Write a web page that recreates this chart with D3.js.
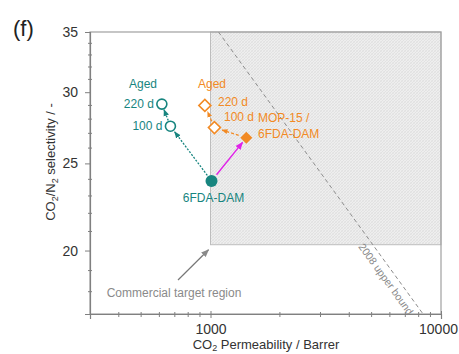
<!DOCTYPE html>
<html><head><meta charset="utf-8">
<script src="https://cdn.jsdelivr.net/npm/d3@7"></script>
<style>
body{margin:0;background:#fff;}
svg{display:block;font-family:"Liberation Sans",Arial,sans-serif;}
</style></head>
<body><svg id="c" width="459" height="354"></svg>
<script>
// Data
const xDomain = [300, 10000];
const yDomain = [17, 35];
const xTickValues = [1000, 10000];
const yTickValues = [20, 25, 30, 35];
const xMinorTicks = [400,500,600,700,800,900,2000,3000,4000,5000,6000,7000,8000,9000];
const yMinorTicks = [18,19,21,22,23,24,26,27,28,29,31,32,33,34];
const targetRegion = {x0: 1000, x1: 10000, y0: 20.3, y1: 35};
const upperBound = [[1083, 35], [8360, 17]];
const pureName = "6FDA-DAM";
const pure = [1010, 23.9];
const pureAged = [[670, 27.5], [615, 29.1]];
const mmm = [1430, 26.7];
const mmmAged = [[1040, 27.4], [945, 29.0]];
const agedLabels = ["100 d", "220 d"];

const teal = "#17857f", orange = "#f28a24", magenta = "#e021e8", gray = "#8a8a8a";

const svg = d3.select("#c");
const L = 90, R = 441, T = 32, B = 314;
const x = d3.scaleLog().domain(xDomain).range([L, R]);
const y = d3.scaleLog().domain(yDomain).range([B, T]);

const defs = svg.append("defs");
const pat = defs.append("pattern").attr("id","hatch").attr("width",3).attr("height",3)
  .attr("patternUnits","userSpaceOnUse");
pat.append("rect").attr("width",3).attr("height",3).attr("fill","#eeeeee");
pat.append("path").attr("d","M0,3L3,0").attr("stroke","#d8d8d8").attr("stroke-width",0.6);
pat.append("path").attr("d","M0,0L3,3").attr("stroke","#e0e0e0").attr("stroke-width",0.5);
function marker(id, color, size){
  defs.append("marker").attr("id",id).attr("viewBox","0 0 10 10").attr("refX",9).attr("refY",5)
    .attr("markerWidth",size).attr("markerHeight",size).attr("orient","auto").attr("markerUnits","userSpaceOnUse")
    .append("path").attr("d","M0,1L10,5L0,9Z").attr("fill",color);
}
marker("aT", teal, 7); marker("aO", orange, 6); marker("aM", magenta, 8); marker("aG", gray, 8);

// target region
svg.append("rect").attr("x", x(targetRegion.x0)).attr("y", y(targetRegion.y1))
  .attr("width", x(targetRegion.x1)-x(targetRegion.x0)).attr("height", y(targetRegion.y0)-y(targetRegion.y1))
  .attr("fill","url(#hatch)").attr("stroke","#bdbdbd").attr("stroke-width",1);

// upper bound
svg.append("line").attr("x1",x(upperBound[0][0])).attr("y1",y(upperBound[0][1]))
  .attr("x2",x(upperBound[1][0])).attr("y2",y(upperBound[1][1]))
  .attr("stroke","#8c8c8c").attr("stroke-width",1).attr("stroke-dasharray","4,3");
{
  const ang = Math.atan2(y(upperBound[1][1])-y(upperBound[0][1]), x(upperBound[1][0])-x(upperBound[0][0]))*180/Math.PI;
  svg.append("text").attr("transform",`translate(386,279) rotate(${ang})`).attr("text-anchor","middle")
    .attr("font-size",10.5).attr("fill","#8a8a8a").attr("dy","0.35em").text("2008 upper bound");
}

// frame
svg.append("rect").attr("x",L).attr("y",T).attr("width",R-L).attr("height",B-T)
  .attr("fill","none").attr("stroke","#a0a0a0").attr("stroke-width",1.2);

// axes
const gx = svg.append("g").attr("transform",`translate(0,${B})`)
  .call(d3.axisBottom(x).tickValues(xTickValues).tickFormat(d3.format("d")).tickSize(5).tickPadding(5));
const gy = svg.append("g").attr("transform",`translate(${L},0)`)
  .call(d3.axisLeft(y).tickValues(yTickValues).tickFormat(d3.format("d")).tickSize(5).tickPadding(7));
[gx, gy].forEach(g=>{
  g.select(".domain").attr("stroke","#808080").attr("stroke-width",1.2);
  g.selectAll(".tick line").attr("stroke","#808080");
  g.selectAll("text").attr("font-size",14).attr("fill","#333").attr("font-family","Liberation Sans, Arial, sans-serif");
});
gx.selectAll(".tick line").attr("y1",-3).attr("y2",4);
gx.selectAll(".tick text").filter(d=>d===10000).attr("dx",-3);
svg.append("g").selectAll("line").data(xMinorTicks).join("line")
  .attr("x1",d=>x(d)).attr("x2",d=>x(d)).attr("y1",B-2).attr("y2",B+3).attr("stroke","#808080");
svg.append("g").selectAll("line").data(yMinorTicks).join("line")
  .attr("y1",d=>y(d)).attr("y2",d=>y(d)).attr("x1",L-2).attr("x2",L+2).attr("stroke","#808080");

// axis titles
const xt = svg.append("text").attr("x",266).attr("y",349).attr("text-anchor","middle").attr("font-size",13).attr("fill","#333");
xt.append("tspan").text("CO");
xt.append("tspan").attr("font-size",9).attr("dy",2).text("2");
xt.append("tspan").attr("dy",-2).text(" Permeability / Barrer");
const yt = svg.append("text").attr("transform","translate(55,162) rotate(-90)").attr("text-anchor","middle").attr("font-size",13).attr("fill","#333");
yt.append("tspan").text("CO");
yt.append("tspan").attr("font-size",9).attr("dy",3).text("2");
yt.append("tspan").attr("dy",-3).text("/N");
yt.append("tspan").attr("font-size",9).attr("dy",3).text("2");
yt.append("tspan").attr("dy",-3).text(" selectivity / -");

svg.append("text").attr("x",13).attr("y",36).attr("font-size",22).attr("fill","#222").text("(f)");

// arrows helper: shorten between points
function arrow(p, q, color, mk, dash, w, s0, s1){
  const x1=x(p[0]), y1=y(p[1]), x2=x(q[0]), y2=y(q[1]);
  const dx=x2-x1, dy=y2-y1, len=Math.hypot(dx,dy), ux=dx/len, uy=dy/len;
  svg.append("line").attr("x1",x1+ux*s0).attr("y1",y1+uy*s0).attr("x2",x2-ux*s1).attr("y2",y2-uy*s1)
    .attr("stroke",color).attr("stroke-width",w).attr("stroke-dasharray",dash).attr("marker-end",`url(#${mk})`);
}
arrow(pure, pureAged[0], teal, "aT", "2,1.5", 1.3, 7, 7);
arrow(pureAged[0], pureAged[1], teal, "aT", "2,1.5", 1.3, 6, 6);
arrow(pure, mmm, magenta, "aM", null, 1.4, 8, 6);
arrow(mmm, mmmAged[0], orange, "aO", "3,2", 1.3, 8, 8);
arrow(mmmAged[0], mmmAged[1], orange, "aO", "3,2", 1.3, 7, 7);

// gray commercial arrow
svg.append("line").attr("x1",178).attr("y1",280).attr("x2",x(targetRegion.x0)-2).attr("y2",y(targetRegion.y0)+5)
  .attr("stroke","#777").attr("stroke-width",1.2).attr("marker-end","url(#aG)");
svg.append("text").attr("x",174).attr("y",297).attr("text-anchor","middle").attr("font-size",12).attr("fill","#8a8a8a")
  .text("Commercial target region");

// points
svg.append("circle").attr("cx",x(pure[0])).attr("cy",y(pure[1])).attr("r",6).attr("fill",teal);
svg.selectAll(".pa").data(pureAged).join("circle").attr("cx",d=>x(d[0])).attr("cy",d=>y(d[1])).attr("r",5)
  .attr("fill","#fff").attr("stroke",teal).attr("stroke-width",1.6);
const diamond = d3.symbol().type(d3.symbolSquare).size(72);
svg.append("path").attr("d",diamond).attr("transform",`translate(${x(mmm[0])},${y(mmm[1])}) rotate(45)`).attr("fill",orange);
svg.selectAll(".ma").data(mmmAged).join("path").attr("d",diamond)
  .attr("transform",d=>`translate(${x(d[0])},${y(d[1])}) rotate(45)`).attr("fill","#fff").attr("stroke",orange).attr("stroke-width",1.6);

// labels
const fs = 12;
svg.append("text").attr("x",x(pure[0])+2).attr("y",y(pure[1])+21).attr("text-anchor","middle").attr("font-size",fs).attr("fill",teal).text(pureName);
svg.append("text").attr("x",143).attr("y",88).attr("text-anchor","middle").attr("font-size",fs).attr("fill",teal).text("Aged");
pureAged.forEach((d,i)=>{
  svg.append("text").attr("x",x(d[0])-8).attr("y",y(d[1])+4).attr("text-anchor","end").attr("font-size",fs).attr("fill",teal).text(agedLabels[i]);
});
svg.append("text").attr("x",212).attr("y",88).attr("text-anchor","middle").attr("font-size",fs).attr("fill",orange).text("Aged");
svg.append("text").attr("x",218).attr("y",106).attr("font-size",fs).attr("fill",orange).text(agedLabels[1]);
svg.append("text").attr("x",224).attr("y",121).attr("font-size",fs).attr("fill",orange).text(agedLabels[0]);
svg.append("text").attr("x",258).attr("y",122).attr("font-size",fs).attr("fill",orange).text("MOP-15 /");
svg.append("text").attr("x",258).attr("y",138).attr("font-size",fs).attr("fill",orange).text(pureName);
</script></body></html>
